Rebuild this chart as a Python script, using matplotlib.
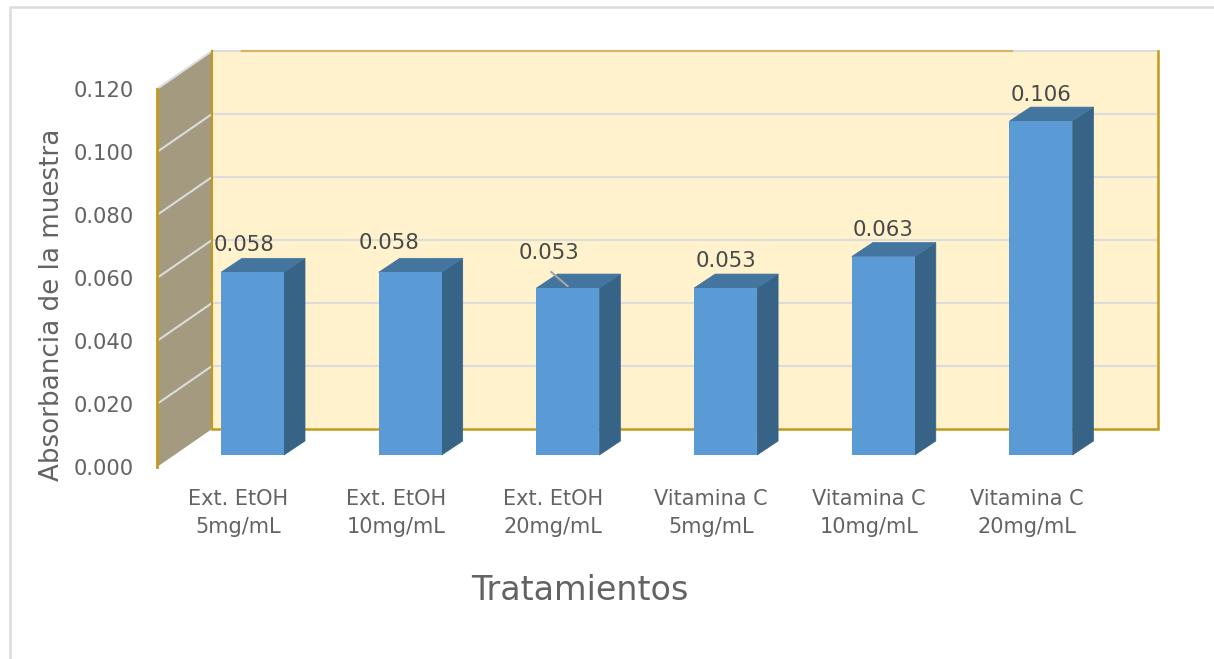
import matplotlib
matplotlib.use("Agg")
import matplotlib.pyplot as plt
from matplotlib.patches import Polygon, Rectangle
from matplotlib.lines import Line2D

categories = ["Ext. EtOH\n5mg/mL", "Ext. EtOH\n10mg/mL", "Ext. EtOH\n20mg/mL",
              "Vitamina C\n5mg/mL", "Vitamina C\n10mg/mL", "Vitamina C\n20mg/mL"]
values = [0.058, 0.058, 0.053, 0.053, 0.063, 0.106]
value_labels = ["0.058", "0.058", "0.053", "0.053", "0.063", "0.106"]
y_ticks = [0.0, 0.02, 0.04, 0.06, 0.08, 0.10, 0.12]

W, H = 1214, 659
plt.rcParams["font.family"] = ["DejaVu Sans"]
TEXT = "#636363"
GOLD = "#c49a1c"
GRID = "#dcdcdc"

fig = plt.figure(figsize=(W / 100, H / 100), dpi=100)

# frame around the picture
fig.add_artist(Line2D([10 / W, 10 / W, 1], [0, 1 - 7 / H, 1 - 7 / H], color="#dcdcdc", lw=1.8))

# axes box = front plane of the 3d box, in image pixels
left, right, top, bottom = 157, 1158, 51, 467
ax = fig.add_axes([left / W, 1 - bottom / H, (right - left) / W, (bottom - top) / H])
px_x = 157.7  # pixels per category
px_y = 3150.0  # pixels per unit of absorbance
x0 = -(252.5 - left) / px_x
ax.set_xlim(x0, x0 + (right - left) / px_x)
ax.set_ylim(0, (bottom - top) / px_y)
for s in ax.spines.values():
    s.set_visible(False)
ax.patch.set_visible(False)

# back wall and side wall
wall_dx, wall_dy = 55 / px_x, 38 / px_y
x_end = ax.get_xlim()[1]
y_back_top = ax.get_ylim()[1]
ax.add_patch(Rectangle((x0 + wall_dx, wall_dy), x_end - x0 - wall_dx, y_back_top - wall_dy,
                       fc="#fff2cc", ec="none", zorder=1))
ax.add_patch(Polygon([(x0, 0), (x0 + wall_dx, wall_dy), (x0 + wall_dx, y_back_top), (x0, 0.12)],
                     fc="#a39a80", ec="none", zorder=1))
for t in y_ticks[1:]:
    ax.plot([x0, x0 + wall_dx, x_end], [t, t + wall_dy, t + wall_dy], color=GRID, lw=1.5,
            zorder=2, clip_on=False, solid_joinstyle="miter")
# top edge: gold in the middle, grey towards both ends
ax.plot([x0 + wall_dx, x_end], [y_back_top, y_back_top], color="#dcdcdc", lw=1.5, zorder=2, clip_on=False)
ax.plot([x0 + wall_dx + 30 / px_x, x0 + wall_dx + 800 / px_x], [y_back_top, y_back_top], color="#d8b565",
        lw=1.5, zorder=2, clip_on=False)
ax.plot([x0 + wall_dx, x_end, x_end], [wall_dy, wall_dy, y_back_top], color=GOLD, lw=1.8,
        zorder=3, clip_on=False, solid_joinstyle="miter")
ax.plot([x0, x0], [0, 0.12], color=GOLD, lw=2, zorder=3, clip_on=False)
ax.plot([x0 + wall_dx, x0 + wall_dx], [wall_dy, y_back_top], color=GOLD, lw=1.5, zorder=3, clip_on=False)

# bars with side and top faces
bar_w = 63 / px_x
depth_x, depth_y = 21 / px_x, 14 / px_y
base = 12 / px_y
xs = list(range(len(values)))
for x, v in zip(xs, values):
    xr = x + bar_w / 2
    xl = x - bar_w / 2
    t = base + v
    ax.add_patch(Polygon([(xr, base), (xr + depth_x, base + depth_y), (xr + depth_x, t + depth_y), (xr, t)],
                         fc="#376387", ec="#376387", lw=0.5, zorder=4, clip_on=False))
    ax.add_patch(Polygon([(xl, t), (xl + depth_x, t + depth_y), (xr + depth_x, t + depth_y), (xr, t)],
                         fc="#44759f", ec="#44759f", lw=0.5, zorder=4, clip_on=False))
ax.bar(xs, values, width=bar_w, bottom=base, color="#5b9bd5", zorder=5, clip_on=False)

# data labels, some were dragged by hand in the original
nudge = [(-8, 29), (-21, 31), (-19, 36), (0, 28), (0, 28), (0, 27)]
for x, v, lab, (nx, ny) in zip(xs, values, value_labels, nudge):
    ax.annotate(lab, xy=(x, base + v), xytext=(nx * 0.72, ny * 0.72 - 1), textcoords="offset points",
                ha="center", va="center", fontsize=15.3, color="#484848", zorder=6, annotation_clip=False)
# leader line of the third label
ax.annotate("", xy=(2 + 2 / px_x, base + values[2]), xytext=(2 - 19 / px_x, base + values[2] + 18 / px_y),
            arrowprops=dict(arrowstyle="-", color="#a6a6a6", lw=1.5), zorder=7, annotation_clip=False)

ax.set_yticks(y_ticks, [f"{t:.3f}" for t in y_ticks])
ax.set_xticks([x - 14.5 / px_x for x in xs], categories, linespacing=1.5)
ax.tick_params(axis="y", length=0, pad=17, labelsize=15.2, labelcolor=TEXT)
ax.tick_params(axis="x", length=0, pad=16, labelsize=15, labelcolor=TEXT)

fig.text(52 / W, 1 - 305 / H, "Absorbancia de la muestra", rotation=90, ha="center", va="center",
         fontsize=18.8, color=TEXT)
fig.text(580 / W, 1 - 590 / H, "Tratamientos", ha="center", va="center", fontsize=24, color=TEXT)

fig.savefig("out.png", dpi=100, facecolor="white")
